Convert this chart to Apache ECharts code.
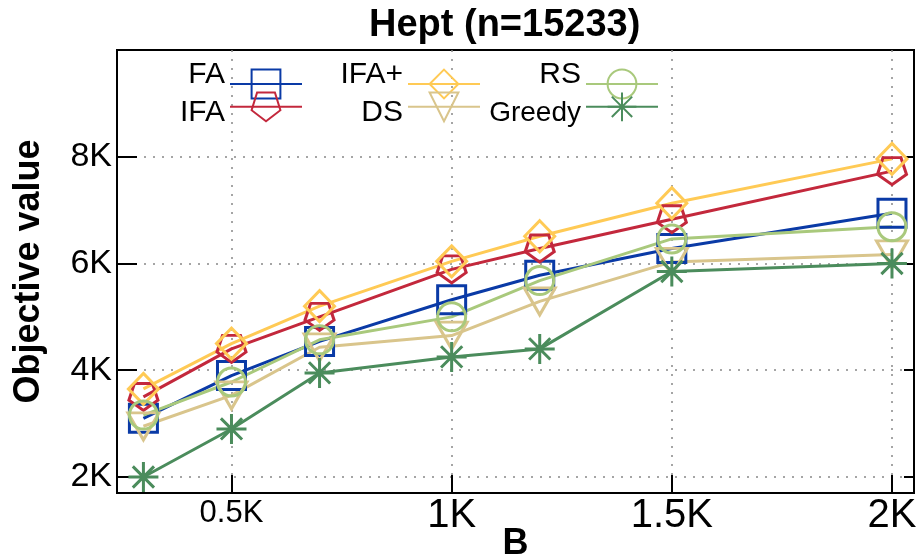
<!DOCTYPE html>
<html>
<head>
<meta charset="utf-8">
<script src="https://cdn.jsdelivr.net/npm/echarts@6/dist/echarts.min.js"></script>
<style>
  html, body { margin: 0; padding: 0; background: #fff; }
  #chart { width: 922px; height: 558px; }
</style>
</head>
<body>
<div id="chart"></div>
<script>
// Budget B on the x axis, objective value per method
const budgets = [300, 500, 700, 1000, 1200, 1500, 2000];
const faValues      = [3100, 3900, 4540, 5320, 5780, 6280, 6940];
const ifaValues     = [3500, 4400, 5000, 5890, 6280, 6830, 7730];
const ifaPlusValues = [3650, 4500, 5200, 6040, 6510, 7130, 7960];
const dsValues      = [2950, 3530, 4430, 4650, 5290, 6030, 6170];
const rsValues      = [3160, 3780, 4570, 5000, 5680, 6460, 6690];
const greedyValues  = [2000, 2900, 3950, 4250, 4400, 5850, 6000];

const xTickLabels = { 500: '0.5K', 1000: '1K', 1500: '1.5K', 2000: '2K' };
const yTickLabels = { 2000: '2K', 4000: '4K', 6000: '6K', 8000: '8K' };

const FONT = '"Liberation Sans", Arial, sans-serif';

const PENTAGON = 'path://M0,1L-0.951,0.309L-0.588,-0.809L0.588,-0.809L0.951,0.309Z';
const TRIANGLE_DOWN = 'path://M-1,-0.6L1,-0.6L0,1.1Z';
const ASTERISK = 'path://M0,-1L0,1M-1,0L1,0M-0.707,-0.707L0.707,0.707M-0.707,0.707L0.707,-0.707';

function pairs(values) {
  return budgets.map((b, i) => [b, values[i]]);
}

function makeSeries(name, values, color, symbol, size) {
  return {
    name: name,
    type: 'line',
    data: pairs(values),
    symbol: symbol,
    symbolSize: size,
    showAllSymbol: true,
    lineStyle: { color: color, width: 3 },
    itemStyle: { color: 'transparent', borderColor: color, borderWidth: 3 },
    emphasis: { disabled: true },
    animation: false
  };
}

const gridLine = { show: true, showMinLine: false, showMaxLine: false,
                   lineStyle: { color: '#888', width: 1.5, type: [2, 7] } };

// Legend: the upper entry's text sits above its sample line, the lower entry's a bit below it
const upperNames = ['FA', 'IFA+', 'RS'];
function legendText(name) {
  const key = name === 'Greedy' ? 'small' : 'txt';
  if (upperNames.indexOf(name) >= 0) return '{' + key + '|' + name + '}\n{pad|}';
  return '{low|}\n{' + key + '|' + name + '}';
}
const legendRich = {
  txt:   { fontFamily: FONT, fontSize: 30, color: '#000', lineHeight: 18 },
  small: { fontFamily: FONT, fontSize: 28, color: '#000', lineHeight: 20 },
  pad:   { fontSize: 1, lineHeight: 18 },
  low:   { fontSize: 1, lineHeight: 12 }
};

const chart = echarts.init(document.getElementById('chart'));

const legendBase = {
  orient: 'vertical',
  align: 'right',
  itemWidth: 72,
  itemHeight: 36,
  itemGap: -8,
  top: 55,
  selectedMode: false,
  formatter: legendText,
  textStyle: { fontFamily: FONT, fontSize: 30, color: '#000', rich: legendRich }
};

chart.setOption({
  backgroundColor: '#fff',
  title: {
    text: 'Hept (n=15233)',
    left: 364,
    top: 2,
    textStyle: { fontFamily: FONT, fontSize: 38, fontWeight: 'bold', color: '#000' }
  },
  legend: [
    Object.assign({}, legendBase, { right: 614, data: ['FA', 'IFA'] }),
    Object.assign({}, legendBase, { right: 436, data: ['IFA+', 'DS'] }),
    Object.assign({}, legendBase, { right: 258, data: ['RS', 'Greedy'] })
  ],
  grid: {
    left: 117, right: 8, top: 50, bottom: 65,
    show: true, borderColor: '#000', borderWidth: 2,
    containLabel: false,
    outerBoundsMode: 'none'
  },
  xAxis: {
    type: 'value',
    min: 240,
    max: 2050,
    splitNumber: 4,
    name: 'B',
    nameLocation: 'middle',
    nameGap: 33,
    nameMoveOverlap: false,
    nameTextStyle: { fontFamily: FONT, fontSize: 36, fontWeight: 'bold', color: '#000' },
    axisLine: { show: true, lineStyle: { color: '#000', width: 2 } },
    axisTick: { show: true, inside: true, length: 18, lineStyle: { color: '#000', width: 2 } },
    axisLabel: {
      margin: 3,
      color: '#000',
      fontFamily: FONT,
      fontSize: 40,
      showMinLabel: true,
      showMaxLabel: true,
      formatter: function (v) {
        const t = xTickLabels[v];
        if (!t) return '';
        return v === 500 ? '{s|' + t + '}' : t;
      },
      rich: { s: { fontFamily: FONT, fontSize: 31, color: '#000', padding: [2, 0, 0, 0] } }
    },
    splitLine: gridLine
  },
  yAxis: [
    {
      type: 'value',
      min: 1700,
      max: 10000,
      splitNumber: 4,
      name: 'Objective value',
      nameLocation: 'middle',
      nameGap: 70,
      nameMoveOverlap: false,
      nameTextStyle: { fontFamily: FONT, fontSize: 36, fontWeight: 'bold', color: '#000' },
      axisLine: { show: true, lineStyle: { color: '#000', width: 2 } },
      axisTick: { show: true, inside: true, length: 20, lineStyle: { color: '#000', width: 2 } },
      axisLabel: {
        margin: 5,
        color: '#000',
        fontFamily: FONT,
        fontSize: 34,
        formatter: function (v) { return yTickLabels[v] || ''; }
      },
      splitLine: gridLine
    },
    {
      type: 'value',
      position: 'right',
      min: 1700,
      max: 10000,
      splitNumber: 4,
      axisLine: { show: true, lineStyle: { color: '#000', width: 2 } },
      axisTick: { show: true, inside: true, length: 10, lineStyle: { color: '#000', width: 2 } },
      axisLabel: { show: false },
      splitLine: { show: false }
    }
  ],
  series: [
    makeSeries('FA', faValues, '#0a3aa6', 'rect', 28),
    makeSeries('IFA', ifaValues, '#c3283c', PENTAGON, [29, 27]),
    makeSeries('IFA+', ifaPlusValues, '#ffca55', 'diamond', [30, 31]),
    makeSeries('DS', dsValues, '#d9c58c', TRIANGLE_DOWN, [31, 27]),
    makeSeries('RS', rsValues, '#a9c97c', 'circle', 28),
    makeSeries('Greedy', greedyValues, '#4b8c5c', ASTERISK, 30)
  ]
});
</script>
</body>
</html>
